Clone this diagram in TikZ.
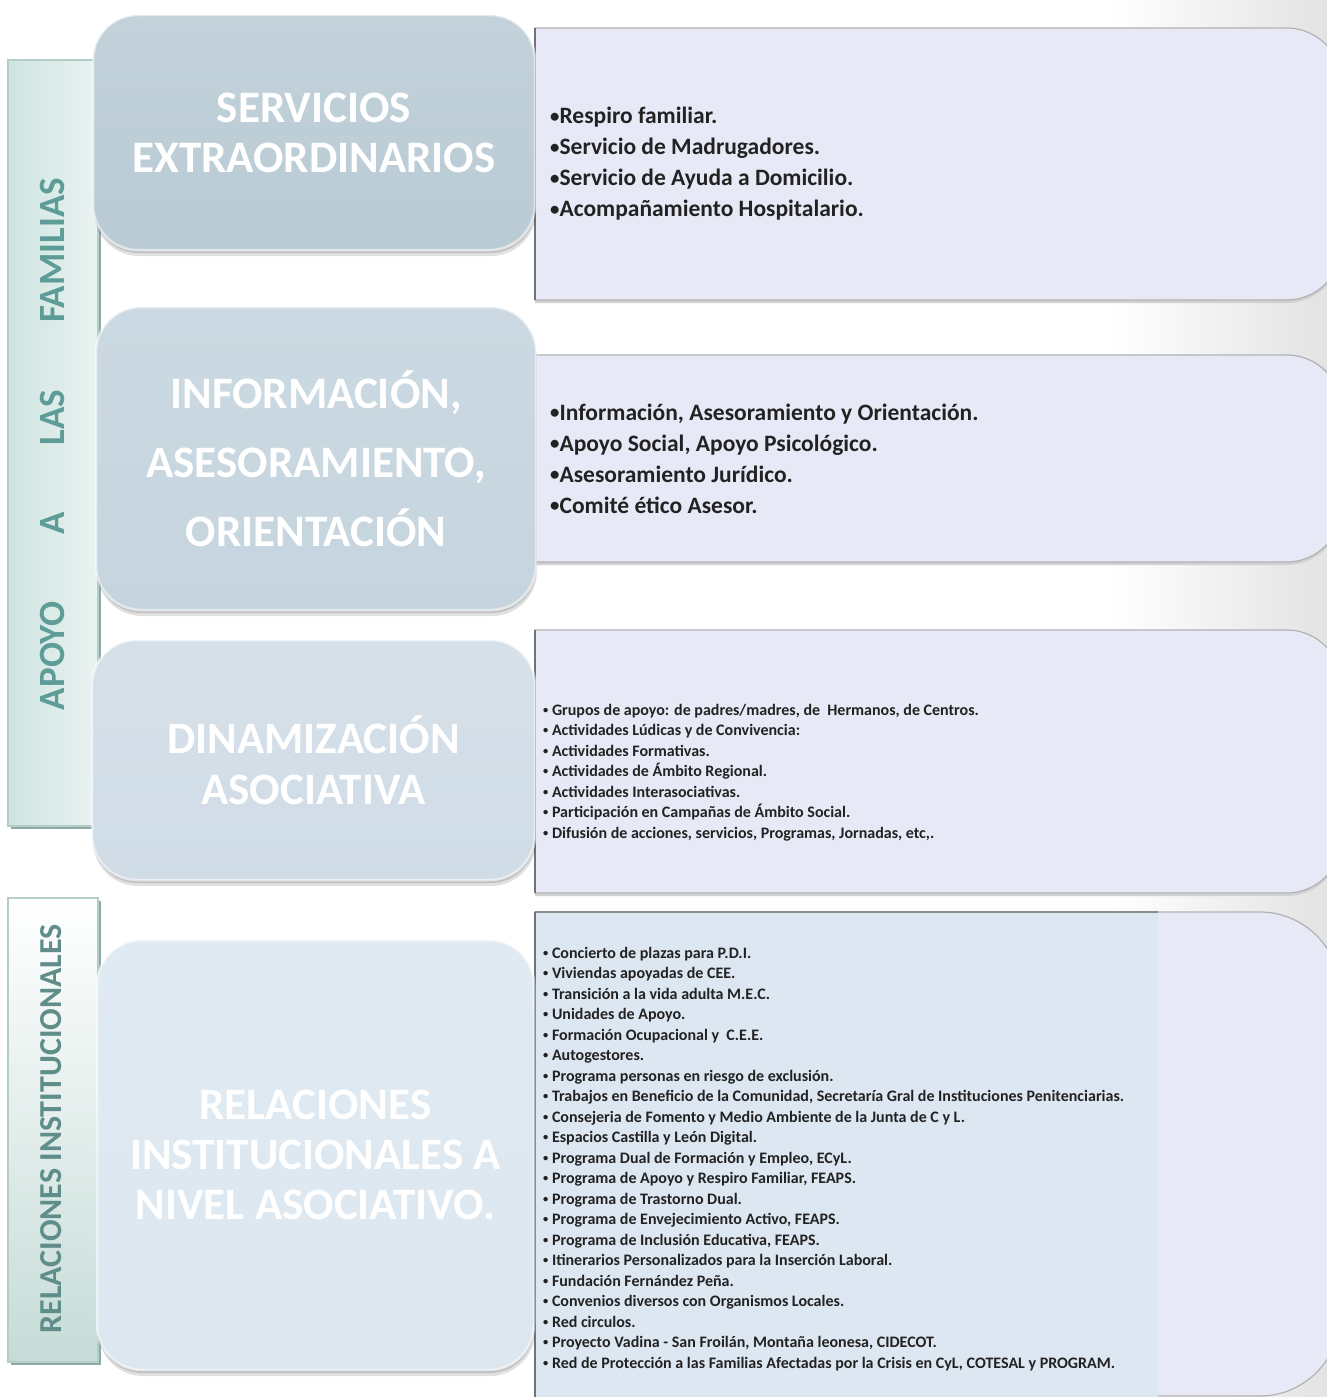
\documentclass[tikz,border=0pt]{standalone}
\usepackage{fontspec}
\setmainfont{Carlito}
\usetikzlibrary{shadows}
\definecolor{boxA}{HTML}{BACBD5}
\definecolor{boxB}{HTML}{C5D4DE}
\definecolor{boxC}{HTML}{D0DCE6}
\definecolor{boxD}{HTML}{DCE7F0}
\definecolor{panelfill}{HTML}{E7EAF6}
\definecolor{panelblue}{HTML}{DDE7F2}
\definecolor{barteal}{HTML}{5E9C97}
\definecolor{bargray}{HTML}{5F8E8A}
\definecolor{barshadow}{HTML}{8FA9A6}
\definecolor{barborder}{HTML}{B3CDC9}
\definecolor{barleft}{HTML}{CEE4E0}
\definecolor{barright}{HTML}{EAF3F1}
\definecolor{barbottom}{HTML}{C6DCD7}
\definecolor{listtext}{HTML}{222222}
\newcommand\bigbul{\raisebox{0.08em}{\scalebox{0.8}{•}}}
\newcommand\smallbul{\raisebox{0.12em}{\scalebox{0.65}{•}}}
\begin{document}
\begin{tikzpicture}[x=1pt,y=-1pt,
  titlebox/.style={rounded corners=45, draw=white, draw opacity=0.55, line width=2.5,
    text=white, font=\bfseries\fontsize{45}{50}\selectfont, align=center,
    drop shadow={shadow xshift=1pt, shadow yshift=-6pt, opacity=0.12, fill=black},
    drop shadow={shadow xshift=0.5pt, shadow yshift=-3pt, opacity=0.14, fill=black}},
  sidebar/.style={draw=barborder, line width=1.2, inner sep=0,
    drop shadow={shadow xshift=3pt, shadow yshift=-3pt, opacity=1, fill=barshadow}},
  bartext/.style={font=\bfseries\fontsize{37}{37}\selectfont, inner sep=0},
  listbig/.style={font=\bfseries\fontsize{23.5}{31}\selectfont, align=left, text=listtext, inner sep=0, anchor=west},
  listsmall/.style={font=\bfseries\fontsize{16}{20.5}\selectfont, align=left, text=listtext, inner sep=0, anchor=west},
  panelline/.style={draw=black!30, line width=1.2},
  panelshadow/.style={fill=black!18}
]
\useasboundingbox (0,0) rectangle (1327,1397);
% background glow at the right
\fill[left color=white, right color=black!11] (1110,0) rectangle (1327,1397);

% ---------- right panels ----------
% panel 1
\fill[panelshadow] (535,31) -- (1287,31) .. controls (1317,31) and (1342,56) .. (1342,86) -- (1342,248) .. controls (1342,278) and (1317,303) .. (1287,303) -- (535,303) -- cycle;
\filldraw[fill=panelfill, panelline] (535,28) -- (1287,28) .. controls (1317,28) and (1342,53) .. (1342,83) -- (1342,245) .. controls (1342,275) and (1317,300) .. (1287,300) -- (535,300) -- cycle;
\draw[black!55, line width=1.5] (535,28) -- (535,300);
% panel 2
\fill[panelshadow] (535,358) -- (1287,358) .. controls (1317,358) and (1342,383) .. (1342,413) -- (1342,510) .. controls (1342,540) and (1317,565) .. (1287,565) -- (535,565) -- cycle;
\filldraw[fill=panelfill, panelline] (535,355) -- (1287,355) .. controls (1317,355) and (1342,380) .. (1342,410) -- (1342,507) .. controls (1342,537) and (1317,562) .. (1287,562) -- (535,562) -- cycle;
\draw[black!55, line width=1.5] (535,355) -- (535,562);
% panel 3
\fill[panelshadow] (535,633) -- (1287,633) .. controls (1317,633) and (1342,658) .. (1342,688) -- (1342,841) .. controls (1342,871) and (1317,896) .. (1287,896) -- (535,896) -- cycle;
\filldraw[fill=panelfill, panelline] (535,630) -- (1287,630) .. controls (1317,630) and (1342,655) .. (1342,685) -- (1342,838) .. controls (1342,868) and (1317,893) .. (1287,893) -- (535,893) -- cycle;
\draw[black!55, line width=1.5] (535,630) -- (535,893);
% panel 4
\filldraw[fill=panelfill, panelline] (535,912) -- (1260,912) .. controls (1304,912) and (1340,948) .. (1340,992) -- (1340,1316) .. controls (1340,1360) and (1304,1396) .. (1260,1396) -- (535,1396) -- cycle;
\fill[panelblue] (536,913) rectangle (1158,1397);
\draw[black!45, line width=1.2] (535,912) -- (1158,912);
\draw[black!55, line width=1.5] (535,912) -- (535,1397);

% ---------- side bars ----------
\node[sidebar, minimum width=90, minimum height=766,
  left color=barleft, right color=barright]
  (famBar) at (53,443) {};
\node[bartext, text=barteal, rotate=90] (famText) at (52,444)
  {\makebox[532pt]{APOYO\hfill A\hfill LAS\hfill FAMILIAS}};

\node[sidebar, minimum width=90, minimum height=464,
  top color=white, bottom color=barbottom]
  (relBar) at (53,1130) {};
\node[bartext, text=bargray, rotate=90, font=\bfseries\fontsize{32}{32}\selectfont] (relText) at (51,1129)
  {RELACIONES INSTITUCIONALES};

% ---------- title boxes ----------
\node[titlebox, top color=boxA!88!white, bottom color=boxA, minimum width=442, minimum height=235]
  (servicios) at (314,132.5) {SERVICIOS\\EXTRAORDINARIOS};
\node[titlebox, top color=boxB!88!white, bottom color=boxB, minimum width=440, minimum height=303,
  font=\bfseries\fontsize{45}{69}\selectfont]
  (informacion) at (316,458.5) {INFORMACIÓN,\\ASESORAMIENTO,\\ORIENTACIÓN};
\node[titlebox, top color=boxC!88!white, bottom color=boxC, minimum width=443, minimum height=240,
  font=\bfseries\fontsize{45}{51}\selectfont]
  (dinamizacion) at (313.5,760) {DINAMIZACIÓN\\ASOCIATIVA};
\node[titlebox, top color=boxD!88!white, bottom color=boxD, minimum width=437, minimum height=430]
  (relaciones) at (315.5,1155) {RELACIONES\\INSTITUCIONALES A\\NIVEL ASOCIATIVO.};

% ---------- lists ----------
\node[listbig] (list1) at (550,164) {\bigbul Respiro familiar.\\\bigbul Servicio de Madrugadores.\\\bigbul Servicio de Ayuda a Domicilio.\\\bigbul Acompañamiento Hospitalario.};
\node[listbig] (list2) at (550,458.5) {\bigbul Información, Asesoramiento y Orientación.\\\bigbul Apoyo Social, Apoyo Psicológico.\\\bigbul Asesoramiento Jurídico.\\\bigbul Comité ético Asesor.};
\node[listsmall] (list3) at (543,772.5) {\smallbul\ Grupos de apoyo: de padres/madres, de~ Hermanos, de Centros.\\
\smallbul\ Actividades Lúdicas y de Convivencia:\\
\smallbul\ Actividades Formativas.\\
\smallbul\ Actividades de Ámbito Regional.\\
\smallbul\ Actividades Interasociativas.\\
\smallbul\ Participación en Campañas de Ámbito Social.\\
\smallbul\ Difusión de acciones, servicios, Programas, Jornadas, etc,.};
\node[listsmall] (list4) at (543,1159) {\smallbul\ Concierto de plazas para P.D.I.\\
\smallbul\ Viviendas apoyadas de CEE.\\
\smallbul\ Transición a la vida adulta M.E.C.\\
\smallbul\ Unidades de Apoyo.\\
\smallbul\ Formación Ocupacional y~ C.E.E.\\
\smallbul\ Autogestores.\\
\smallbul\ Programa personas en riesgo de exclusión.\\
\smallbul\ Trabajos en Beneficio de la Comunidad, Secretaría Gral de Instituciones Penitenciarias.\\
\smallbul\ Consejeria de Fomento y Medio Ambiente de la Junta de C y L.\\
\smallbul\ Espacios Castilla y León Digital.\\
\smallbul\ Programa Dual de Formación y Empleo, ECyL.\\
\smallbul\ Programa de Apoyo y Respiro Familiar, FEAPS.\\
\smallbul\ Programa de Trastorno Dual.\\
\smallbul\ Programa de Envejecimiento Activo, FEAPS.\\
\smallbul\ Programa de Inclusión Educativa, FEAPS.\\
\smallbul\ Itinerarios Personalizados para la Inserción Laboral.\\
\smallbul\ Fundación Fernández Peña.\\
\smallbul\ Convenios diversos con Organismos Locales.\\
\smallbul\ Red circulos.\\
\smallbul\ Proyecto Vadina - San Froilán, Montaña leonesa, CIDECOT.\\
\smallbul\ Red de Protección a las Familias Afectadas por la Crisis en CyL, COTESAL y PROGRAM.};
\end{tikzpicture}
\end{document}
